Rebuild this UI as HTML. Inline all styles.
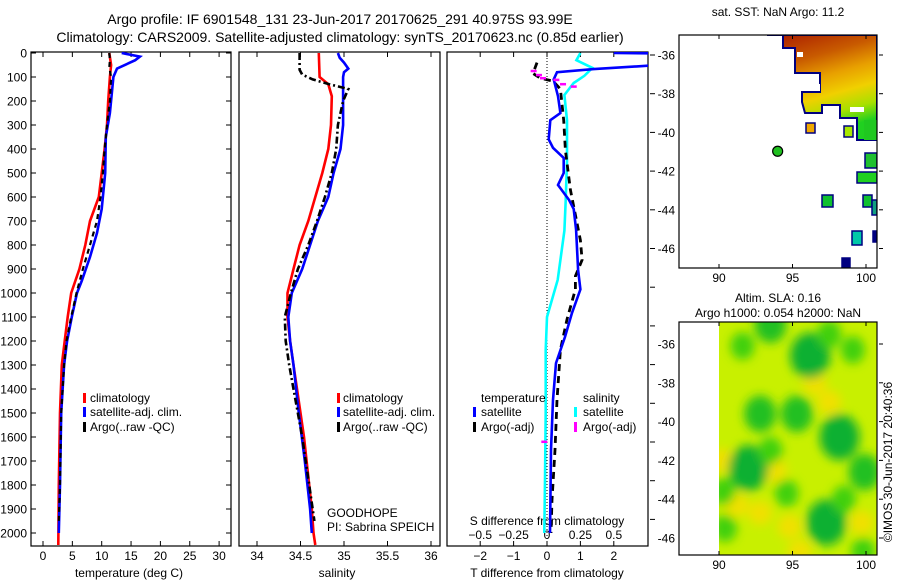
<!DOCTYPE html>
<html><head><meta charset="utf-8"><style>
html,body{margin:0;padding:0;background:#fff;}
svg{display:block;font-family:"Liberation Sans",sans-serif;}
text{fill:#000;}
</style></head><body>
<svg id="fig" width="900" height="580" viewBox="0 0 900 580" xmlns="http://www.w3.org/2000/svg">
<defs>
<clipPath id="c1"><rect x="31" y="52" width="200" height="494"/></clipPath>
<clipPath id="c2"><rect x="239" y="52" width="201" height="494"/></clipPath>
<clipPath id="c3"><rect x="447" y="52" width="201" height="494"/></clipPath>
<clipPath id="cm1"><rect x="679" y="35" width="198" height="233"/></clipPath>
<clipPath id="cm2"><rect x="719" y="322" width="158" height="233"/></clipPath>
<filter id="blur" x="-20%" y="-20%" width="140%" height="140%"><feGaussianBlur stdDeviation="5"/></filter>
<linearGradient id="sstg" x1="0" y1="0" x2="0.3" y2="1">
<stop offset="0" stop-color="#a81800"/><stop offset="0.3" stop-color="#c85a00"/><stop offset="0.5" stop-color="#e8a000"/><stop offset="0.68" stop-color="#f0d000"/><stop offset="0.85" stop-color="#a8e000"/><stop offset="1" stop-color="#20d020"/>
</linearGradient>
</defs>
<text x="340" y="24" font-size="14" text-anchor="middle">Argo profile: IF 6901548_131 23-Jun-2017 20170625_291 40.975S 93.99E</text>
<text x="340" y="42" font-size="14" text-anchor="middle">Climatology: CARS2009. Satellite-adjusted climatology: synTS_20170623.nc (0.85d earlier)</text>
<g id="g1"></g>
<g id="g2"></g>
<g id="g3"></g>
<g id="m1"></g>
<g id="m2"></g>
<text x="0" y="0" font-size="12" text-anchor="middle" transform="translate(892,462) rotate(-90)">©IMOS 30-Jun-2017 20:40:36</text>
</svg>
<script>
// ---- data ----
const tClimDepth = [0,50,100,200,300,400,500,600,700,800,900,1000,1100,1200,1300,1500,1800,2050];
const tClimVal   = [11.3,11.6,11.4,11.1,10.9,10.5,10.0,9.5,8.0,7.2,6.2,4.8,4.2,3.7,3.2,2.9,2.7,2.6];
const tSatDepth  = [0,15,30,65,100,250,350,500,650,750,850,950,1000,1100,1200,1300,1500,1800,2000];
const tSatVal    = [13.4,16.5,15.7,12.6,12.0,11.4,10.7,10.6,10.0,9.2,8.0,6.6,5.8,4.9,4.1,3.6,3.1,2.9,2.7];
const tArgoDepth = [0,30,60,100,200,300,400,500,600,700,800,900,1000,1100,1200,1300,1500,1800,1950];
const tArgoVal   = [11.3,11.4,11.3,11.6,11.4,10.9,10.5,10.2,9.8,9.2,8.0,6.8,5.7,4.8,4.0,3.6,3.1,2.9,2.7];

const sClimDepth = [0,100,130,180,300,400,500,600,700,800,900,1000,1100,1200,1300,1400,1500,1600,1700,1800,1900,2000,2050];
const sClimVal   = [34.71,34.72,34.82,34.86,34.85,34.82,34.75,34.67,34.59,34.49,34.42,34.35,34.35,34.38,34.42,34.46,34.50,34.54,34.57,34.60,34.63,34.65,34.67];
const sSatDepth  = [0,20,40,65,80,100,300,400,500,600,700,800,900,1000,1100,1200,1300,1500,1700,1900,2000];
const sSatVal    = [34.93,34.95,35.0,35.05,35.0,34.99,34.99,34.96,34.88,34.82,34.70,34.61,34.52,34.40,34.36,34.38,34.42,34.48,34.55,34.61,34.63];
const sArgoDepth = [0,70,90,110,130,150,200,300,400,500,600,700,800,900,1000,1100,1200,1300,1400,1600,1800,1950];
const sArgoVal   = [34.49,34.49,34.52,34.64,34.83,35.05,34.99,34.93,34.91,34.86,34.78,34.69,34.59,34.47,34.39,34.32,34.33,34.37,34.42,34.52,34.60,34.66];

const dTSatDepth = [0,2,48,67,80,110,180,250,280,360,395,437,500,550,612,650,737,904,985,1083,1183,1292,1446,1654,2000];
const dTSatVal   = [2.0,3.6,3.6,1.4,0.3,0.2,0.33,0.4,0.1,0.05,0.18,0.5,0.5,0.33,0.66,0.8,0.87,0.93,1.0,0.75,0.54,0.27,0.18,0.12,0.09];
const dSSatDepth = [0,30,62,95,125,175,280,450,615,740,945,1100,1238,1500,1780,2000];
const dSSatVal   = [0.25,0.22,0.34,0.28,0.2,0.13,0.15,0.15,0.14,0.13,0.08,0.0,-0.01,-0.01,-0.015,-0.02];
const dTArgoDepth= [40,85,105,117,150,280,405,570,780,862,930,985,1110,1237,1446,1654,1862,2000];
const dTArgoVal  = [-0.3,-0.42,-0.2,0.18,0.4,0.5,0.55,0.7,1.0,1.05,0.85,0.85,0.6,0.4,0.3,0.24,0.15,0.12];
const dSArgoDepth= [75,92,105,112,130,140,1620];
const dSArgoVal  = [-0.1,-0.06,-0.03,0.07,0.12,0.2,-0.02];

const depthTicks = [0,100,200,300,400,500,600,700,800,900,1000,1100,1200,1300,1400,1500,1600,1700,1800,1900,2000];
const tempTicks = [0,5,10,15,20,25,30];
const salTicks = [34,34.5,35,35.5,36];
const salTickLabels = ["34","34.5","35","35.5","36"];
const dTTicks = [-2,-1,0,1,2];
const dSTicks = [-0.5,-0.25,0,0.25,0.5];
const dSTickLabels = ["-0.5","-0.25","0","0.25","0.5"];
const lonTicks = [90,95,100];
const latTicks = [-36,-38,-40,-42,-44,-46];

// ---- scales ----
const yD = d => 53 + d*0.24;
const xT = t => 43 + t*5.87;
const xS = s => 257 + (s-34)*87;
const xdT = v => 547 + v*33.4;
const xdS = v => 547 + v*133.6;
const m1x = lon => 719 + (lon-90)*14.7;
const m1y = lat => 55 + (-36-lat)*19.35;
const m2x = lon => 719 + (lon-90)*14.7;
const m2y = lat => 344 + (-36-lat)*19.4;

const NS = "http://www.w3.org/2000/svg";
function mk(tag, attrs, parent){ const e=document.createElementNS(NS,tag); for(const k in attrs) e.setAttribute(k,attrs[k]); parent.appendChild(e); return e; }
function txt(parent,x,y,s,size,anchor){ const e=mk('text',{x:x,y:y,'font-size':size,'text-anchor':anchor||'start'},parent); e.textContent=s; return e; }
function pathFrom(xs, ds, xf){ return ds.map((d,i)=>(i?'L':'M')+xf(xs[i]).toFixed(1)+','+yD(d).toFixed(1)).join(''); }

const g1=document.getElementById('g1'), g2=document.getElementById('g2'), g3=document.getElementById('g3');

// frames
[[g1,31,231],[g2,239,440],[g3,447,648]].forEach(([g,l,r],i)=>{
  const f=mk('rect',{x:l,y:52,width:r-l,height:494,fill:'none',stroke:'#000','stroke-width':1.2},g);
  
  
});

// depth ticks panel 1
depthTicks.forEach(d=>{
  const y=yD(d);
  mk('line',{x1:31,y1:y,x2:36,y2:y,stroke:'#000'},g1);
  mk('line',{x1:226,y1:y,x2:231,y2:y,stroke:'#000'},g1);
  const t=txt(g1,27,y+4.5,String(d),12,'end');
  
  
});
// panel 3 outside right ticks
for(let i=0;i<13;i++){ const y=55+i*38.7; if(y>546) break; mk('line',{x1:650,y1:y,x2:655,y2:y,stroke:'#000'},g3); }

// x ticks
tempTicks.forEach(t=>{ const x=xT(t);
  mk('line',{x1:x,y1:52,x2:x,y2:57,stroke:'#000'},g1); mk('line',{x1:x,y1:546,x2:x,y2:541,stroke:'#000'},g1);
  const l=txt(g1,x,560,String(t),12,'middle');
  
  
});
salTicks.forEach((s,i)=>{ const x=xS(s);
  mk('line',{x1:x,y1:52,x2:x,y2:57,stroke:'#000'},g2); mk('line',{x1:x,y1:546,x2:x,y2:541,stroke:'#000'},g2);
  const l=txt(g2,x,560,salTickLabels[i],12,'middle');
  
  
});
dTTicks.forEach(v=>{ const x=xdT(v);
  mk('line',{x1:x,y1:52,x2:x,y2:57,stroke:'#000'},g3); mk('line',{x1:x,y1:546,x2:x,y2:541,stroke:'#000'},g3);
  const l=txt(g3,x,560,String(v).replace('-','\u2212'),12,'middle');
  
  
});
dSTicks.forEach((v,i)=>{
  const l=txt(g3,xdS(v),539,dSTickLabels[i].replace('-','\u2212'),12,'middle');
  
  
});
// zero line
const z=mk('line',{x1:547,y1:52,x2:547,y2:546,stroke:'#000','stroke-dasharray':'1,2'},g3);



// axis titles
let a=txt(g1,129,577,'temperature (deg C)',12,'middle');
 
a=txt(g2,337,577,'salinity',12,'middle');
 
a=txt(g3,547,577,'T difference from climatology',12,'middle');
 
a=txt(g3,547,525,'S difference from climatology',12,'middle');
 

// series
function series(g,clip,xs,ds,xf,color,dash,name,w){
  const p=mk('path',{d:pathFrom(xs,ds,xf),fill:'none',stroke:color,'stroke-width':w||2.6,'clip-path':'url(#'+clip+')'},g);
  if(dash) p.setAttribute('stroke-dasharray',dash);
  
  
}
series(g1,'c1',tClimVal,tClimDepth,xT,'#ff0000',null,'temperature-climatology-line');
series(g1,'c1',tSatVal,tSatDepth,xT,'#0000ff',null,'temperature-satellite-line');
series(g1,'c1',tArgoVal,tArgoDepth,xT,'#000000','5,4','temperature-argo-line',2.2);
series(g2,'c2',sClimVal,sClimDepth,xS,'#ff0000',null,'salinity-climatology-line');
series(g2,'c2',sSatVal,sSatDepth,xS,'#0000ff',null,'salinity-satellite-line');
series(g2,'c2',sArgoVal,sArgoDepth,xS,'#000000','7,3,2,3','salinity-argo-line',2.6);
series(g3,'c3',dSSatVal,dSSatDepth,xdS,'#00ffff',null,'s-diff-satellite-line');
series(g3,'c3',dTArgoVal,dTArgoDepth,xdT,'#000000','7,5','t-diff-argo-line',2.8);
series(g3,'c3',dTSatVal,dTSatDepth,xdT,'#0000ff',null,'t-diff-satellite-line');
dSArgoVal.forEach((v,i)=>{
  const x=xdS(v), y=yD(dSArgoDepth[i]);
  const s=mk('line',{x1:x-3,y1:y,x2:x+3,y2:y,stroke:'#ff00ff','stroke-width':2.5},g3);
  
  
});

// legends
function legend(g,bx,tx,y,color,label){
  mk('rect',{x:bx,y:y-9,width:3,height:10,fill:color},g);
  const t=txt(g,tx,y,label,12,'start');
  
  
}
legend(g1,83,90,402,'#ff0000','climatology');
legend(g1,83,90,416,'#0000ff','satellite-adj. clim.');
legend(g1,83,90,431,'#000000','Argo(..raw -QC)');
legend(g2,337,343,402,'#ff0000','climatology');
legend(g2,337,343,416,'#0000ff','satellite-adj. clim.');
legend(g2,337,343,431,'#000000','Argo(..raw -QC)');
a=txt(g3,481,402,'temperature',12,'start');  
a=txt(g3,583,402,'salinity',12,'start');  
legend(g3,473,481,416,'#0000ff','satellite');
legend(g3,473,481,431,'#000000','Argo(-adj)');
legend(g3,574,583,416,'#00ffff','satellite');
legend(g3,574,583,431,'#ff00ff','Argo(-adj)');
a=txt(g2,327,517,'GOODHOPE',12,'start');  
a=txt(g2,327,531,'PI: Sabrina SPEICH',12,'start');  

// ---- maps ----
const m1=document.getElementById('m1'), m2=document.getElementById('m2');
function mapFrame(g,top,bottom,my){
  const f=mk('rect',{x:679,y:top,width:198,height:bottom-top,fill:'none',stroke:'#000','stroke-width':1.2},g);
  
  
  lonTicks.forEach(l=>{ const x=m1x(l);
    mk('line',{x1:x,y1:top,x2:x,y2:top+4,stroke:'#000'},g); mk('line',{x1:x,y1:bottom,x2:x,y2:bottom-4,stroke:'#000'},g);
    const t=txt(g,x,bottom+14,String(l),12,'middle');
    
    
  });
  latTicks.forEach(l=>{ const y=my(l);
    mk('line',{x1:879,y1:y,x2:883,y2:y,stroke:'#000'},g);
    const t=txt(g,675,y+4.5,String(l),12,'end');
    
    
  });
}
// top SST map
const sg=mk('g',{'clip-path':'url(#cm1)'},m1);
mk('polygon',{points:'767,35 877,35 877,140 857,140 857,118 840,118 840,105 822,105 822,113 805,113 802,102 802,92 820,92 820,83 820,73 795,73 795,48 783,48 783,35',fill:'url(#sstg)',stroke:'#000080','stroke-width':2},sg);
mk('rect',{x:864,y:120,width:13,height:20,fill:'#20c820'},sg);
mk('rect',{x:797,y:52,width:6,height:5,fill:'#fff'},sg);
mk('rect',{x:803,y:84,width:17,height:7,fill:'#fff'},sg);
mk('rect',{x:850,y:107,width:14,height:5,fill:'#fff'},sg);
[[806,123,9,10,'#f0a800'],[844,126,9,11,'#a8e800'],[865,153,12,15,'#20c030'],[857,172,20,11,'#20d020'],[822,195,11,12,'#10c030'],[863,195,9,12,'#10c030'],[872,200,5,15,'#10a080'],[852,231,10,14,'#00c8a8'],[873,231,4,11,'#000080'],[842,258,8,10,'#000080']].forEach(r=>{
  const e=mk('rect',{x:r[0],y:r[1],width:r[2],height:r[3],fill:r[4],stroke:'#000080','stroke-width':1.5},sg);
  
  
});
mapFrame(m1,35,268,m1y);
const dot=mk('circle',{cx:m1x(93.99),cy:m1y(-40.975),r:5,fill:'#20c020',stroke:'#000','stroke-width':1.2},m1);


a=txt(m1,778,16,'sat. SST: NaN Argo: 11.2',12,'middle');  

// bottom SLA map
const slaLon = [93.5,91.6,96.2,99.1,92.8,95.3,98.2,92.0,99.9,97.3,94.6,90.4,90.3,99.8,98.5,97.5,93.5];
const slaLat = [-35.0,-36.1,-36.6,-36.3,-39.6,-39.6,-40.8,-42.4,-42.6,-45.2,-43.7,-45.5,-43.6,-46.7,-44.0,-35.5,-41.5];
const slaAmp = [2,1,3,1,2,2,3,3,2,3,1,1,1,1,1,1,1];
const hiLon = [90.2,97.5,92.8,94.8,95.5,99.7,91.2,93.8,96.5];
const hiLat = [-42.0,-39.0,-44.7,-45.4,-46.7,-45.2,-44.3,-42.5,-38.0];
const bg=mk('g',{'clip-path':'url(#cm2)'},m2);
mk('rect',{x:719,y:322,width:158,height:233,fill:'#c8f000'},bg);
const bb=mk('g',{filter:'url(#blur)'},bg);
hiLon.forEach((l,i)=>{
  const e=mk('ellipse',{cx:m2x(l),cy:m2y(hiLat[i]),rx:12,ry:12,fill:'#f0e000'},bb);
  
  
});
slaLon.forEach((l,i)=>{
  const r=8+slaAmp[i]*4;
  const e=mk('ellipse',{cx:m2x(l),cy:m2y(slaLat[i]),rx:r,ry:r*1.15,fill:slaAmp[i]>=3?'#10b030':(slaAmp[i]==2?'#20c020':'#40d010')},bb);
  
  
});
mapFrame(m2,322,555,m2y);
a=txt(m2,778,302,'Altim. SLA: 0.16',12,'middle');  
a=txt(m2,778,317,'Argo h1000: 0.054 h2000: NaN',12,'middle');  
</script>
</body></html>
